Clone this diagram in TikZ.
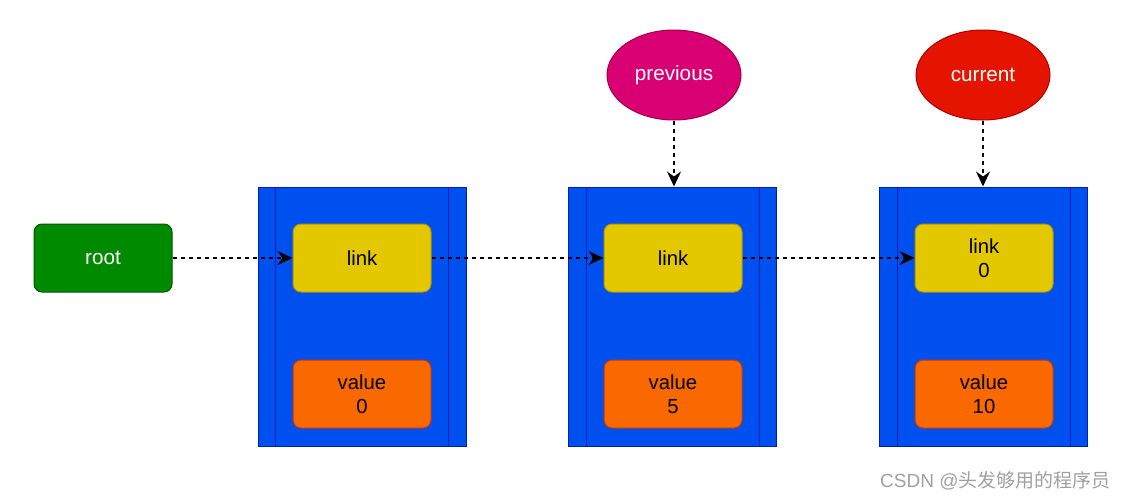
\documentclass[tikz,border=0pt]{standalone}
\usepackage{fontspec}
\setmainfont{Liberation Sans}
\newfontfamily\cjk{Noto Sans CJK SC}
\usetikzlibrary{shapes.geometric,arrows.meta}
\definecolor{blockfill}{HTML}{0050EF}
\definecolor{blockline}{HTML}{001DBC}
\definecolor{linkfill}{HTML}{E3C800}
\definecolor{linkline}{HTML}{B09500}
\definecolor{valfill}{HTML}{FA6800}
\definecolor{valline}{HTML}{C73500}
\definecolor{rootfill}{HTML}{008A00}
\definecolor{rootline}{HTML}{005700}
\definecolor{prevfill}{HTML}{D80073}
\definecolor{prevline}{HTML}{A50040}
\definecolor{curfill}{HTML}{E51400}
\definecolor{curline}{HTML}{B20000}
\definecolor{wmark}{HTML}{A0A0A0}
\tikzset{
  blockbox/.style={draw=blockline,fill=blockfill,line width=1pt,minimum width=208pt,minimum height=259pt,inner sep=0pt},
  rbox/.style={rounded corners=8pt,line width=1pt,minimum width=138pt,minimum height=68pt,inner sep=0pt,align=center,font=\fontsize{20.3}{24}\selectfont},
  linkbox/.style={rbox,draw=linkline,fill=linkfill,text=black},
  valbox/.style={rbox,draw=valline,fill=valfill,text=black},
  rootbox/.style={rbox,draw=rootline,fill=rootfill,text=white,font=\fontsize{20.7}{24}\selectfont},
  ptr/.style={ellipse,line width=1pt,minimum width=134pt,minimum height=90pt,inner sep=0pt,text=white,font=\fontsize{20.7}{24}\selectfont},
  conn/.style={dash pattern=on 4pt off 4pt,line width=1.5pt,black,-{Stealth[length=15pt,width=14pt,inset=5pt]}}
}
\begin{document}
\begin{tikzpicture}[x=1pt,y=-1pt]
\useasboundingbox (0,0) rectangle (1126,499);
\foreach \n/\x in {b1/362,b2/672.5,b3/983.5}{
  \node[blockbox] (\n) at (\x,316.5) {};
  \draw[blockline,line width=1pt] ([xshift=18pt]\n.north west) -- ([xshift=18pt]\n.south west);
  \draw[blockline,line width=1pt] ([xshift=-18pt]\n.north east) -- ([xshift=-18pt]\n.south east);
}
\node[linkbox] (l1) at (362,258) {link};
\node[linkbox] (l2) at (673,258) {link};
\node[linkbox] (l3) at (984,258) {link\\0};
\node[valbox] (v1) at (362,394) {value\\0};
\node[valbox] (v2) at (673,394) {value\\5};
\node[valbox] (v3) at (984,394) {value\\10};
\node[rootbox] (root) at (103,258) {root};
\node[ptr,draw=prevline,fill=prevfill] (prev) at (674,75) {previous};
\node[ptr,draw=curline,fill=curfill] (cur) at (983,75) {current};
\draw[conn] (root.east) -- (l1.west);
\draw[conn] (l1.east) -- (l2.west);
\draw[conn] (l2.east) -- (l3.west);
\draw[conn] (prev.south) -- (prev.south |- b2.north);
\draw[conn] (cur.south) -- (cur.south |- b3.north);
\node[text=wmark,anchor=west,inner sep=0pt,font=\fontsize{19}{22}\selectfont] (wm) at (880,481) {CSDN @{\cjk 头发够用的程序员}};
\end{tikzpicture}
\end{document}
